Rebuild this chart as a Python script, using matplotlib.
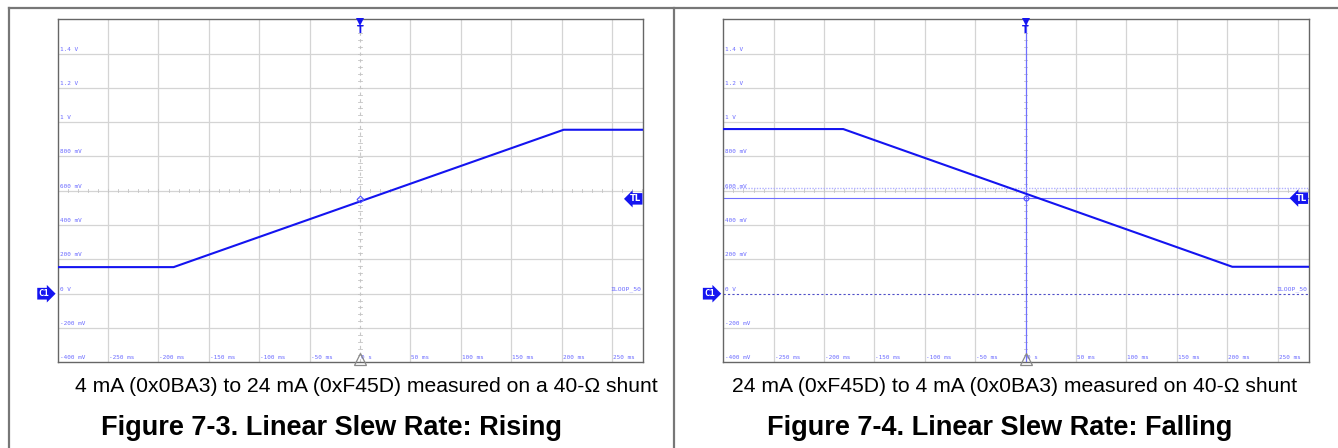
import numpy as np
import matplotlib.pyplot as plt

# scope traces (time in ms, voltage in V)
rise_t = [-300, -185, 202, 281]
rise_v = [0.155, 0.155, 0.956, 0.956]
fall_t = [-300, -181, 205, 281]
fall_v = [0.960, 0.960, 0.157, 0.157]

rise_trig = 0.553
fall_trig = 0.557
fall_dotted = 0.619

volt_ticks = [-0.4, -0.2, 0.0, 0.2, 0.4, 0.6, 0.8, 1.0, 1.2, 1.4]
volt_labels = ["-400 mV", "-200 mV", "0 V", "200 mV", "400 mV", "600 mV",
               "800 mV", "1 V", "1.2 V", "1.4 V"]
time_ticks = [-250, -200, -150, -100, -50, 0, 50, 100, 150, 200, 250]
time_labels = ["-250 ms", "-200 ms", "-150 ms", "-100 ms", "-50 ms", "0 s",
               "50 ms", "100 ms", "150 ms", "200 ms", "250 ms"]

captions = ["4 mA (0x0BA3) to 24 mA (0xF45D) measured on a 40-\u03a9 shunt",
            "24 mA (0xF45D) to 4 mA (0x0BA3) measured on 40-\u03a9 shunt"]
titles = ["Figure 7-3. Linear Slew Rate: Rising",
          "Figure 7-4. Linear Slew Rate: Falling"]

TRACE = "#1414f0"
LABEL = "#6b6bff"
GRID = "#d4d4d4"
FRAME = "#666666"
XLIM = (-300, 281)
YLIM = (-0.4, 1.6)

fig = plt.figure(figsize=(13.38, 4.48), dpi=100)
W, H = 1338, 448


def scope(ax, t, v, trig, falling):
    ax.set_xlim(*XLIM)
    ax.set_ylim(*YLIM)
    ax.set_xticks([])
    ax.set_yticks([])
    for s in ax.spines.values():
        s.set_color(FRAME)
        s.set_linewidth(1.0)
    for x in np.arange(-250, 281, 50):
        if x == 0:
            if not falling:
                ax.axvline(x, color="#c8c8c8", lw=0.8, ls=(0, (3, 3)), zorder=1)
            continue
        ax.axvline(x, color=GRID, lw=0.9, zorder=1)
    for y in np.arange(-0.2, 1.5, 0.2):
        if falling and abs(y) < 1e-9:
            continue
        ax.axhline(y, color=GRID, lw=0.9, zorder=1)
    # minor ticks on the centre crosshair
    for x in np.arange(-300, 281, 10):
        ax.plot([x, x], [0.6 - 0.008, 0.6 + 0.008], color="#c4c4c4", lw=0.6, zorder=1)
    for y in np.arange(-0.4, 1.6, 0.04):
        ax.plot([-1.8, 1.8], [y, y], color="#c4c4c4", lw=0.6, zorder=1)

    if falling:
        ax.axvline(0, color="#7070ff", lw=0.9, zorder=2)
        ax.axhline(trig, color="#7070ff", lw=0.8, zorder=2)
        ax.axhline(fall_dotted, color="#b0b0ff", lw=1.0, ls=(0, (1, 1)), zorder=2)
        ax.axhline(0.0, color="#5050c8", lw=0.8, ls=(0, (2, 2)), zorder=2)

    for y, lab in zip(volt_ticks, volt_labels):
        ax.text(-298, y + 0.012, lab, color=LABEL, fontsize=4.3,
                family="DejaVu Sans Mono", ha="left", va="bottom")
    for x, lab in zip(time_ticks, time_labels):
        ax.text(x + 1, -0.4 + 0.012, lab, color=LABEL, fontsize=4.3,
                family="DejaVu Sans Mono", ha="left", va="bottom")
    ax.text(279, 0.012, "ILOOP_50", color=LABEL, fontsize=4.6,
            family="DejaVu Sans Mono", ha="right", va="bottom")

    ax.plot(t, v, color=TRACE, lw=1.5, zorder=4)
    ax.plot(0, trig, marker='o' if falling else 'D', ms=3.5, mfc='none',
            mec="#5050ff", mew=0.8, zorder=5)

    # channel / trigger tags
    ax.annotate("C1", xy=(0, 0.0), xycoords=('axes fraction', 'data'),
                xytext=(-6, 0), textcoords='offset points', ha='right', va='center',
                color='white', fontsize=6.5, fontweight='bold', family="DejaVu Sans Mono",
                bbox=dict(boxstyle='rarrow,pad=0.15', fc=TRACE, ec='none'),
                annotation_clip=False)
    ax.annotate("TL", xy=(1, trig), xycoords=('axes fraction', 'data'),
                xytext=(-1.5, 0), textcoords='offset points', ha='right', va='center',
                color='white', fontsize=6, fontweight='bold',
                bbox=dict(boxstyle='larrow,pad=0.15', fc=TRACE, ec='none'),
                annotation_clip=False, zorder=6)
    ax.plot(0, 1.582, marker='v', ms=6, color=TRACE, clip_on=False, zorder=6,
            markeredgewidth=0)
    ax.text(0, 1.567, "T", ha='center', va='top', color=TRACE, fontsize=7,
            fontweight='bold', zorder=6)
    ax.plot(0, -0.4 + 0.022, marker='^', ms=9, mfc='none', mec="#888888",
            mew=0.9, clip_on=False, zorder=6)


ax1 = fig.add_axes([57.7 / W, 1 - 362.3 / H, 585.6 / W, 343 / H])
scope(ax1, rise_t, rise_v, rise_trig, False)
ax2 = fig.add_axes([723.3 / W, 1 - 362.3 / H, 585.6 / W, 343 / H])
scope(ax2, fall_t, fall_v, fall_trig, True)

# table frame around the two figures
border = dict(color="#777777", lw=1.6, transform=fig.transFigure, clip_on=False)
fig.add_artist(plt.Line2D([8.5 / W, 1], [1 - 8 / H] * 2, **border))
fig.add_artist(plt.Line2D([8.5 / W] * 2, [0, 1 - 8 / H], **border))
fig.add_artist(plt.Line2D([673.7 / W] * 2, [0, 1 - 8 / H], **border))

fig.text(366.5 / W, 1 - 386 / H, captions[0], ha='center', va='center',
         fontsize=15.2, family="Liberation Sans")
fig.text(331.5 / W, 1 - 428 / H, titles[0], ha='center', va='center',
         fontsize=19.5, fontweight='bold', family="Liberation Sans")
fig.text(1014.5 / W, 1 - 386 / H, captions[1], ha='center', va='center',
         fontsize=15.2, family="Liberation Sans")
fig.text(999.5 / W, 1 - 428 / H, titles[1], ha='center', va='center',
         fontsize=19.5, fontweight='bold', family="Liberation Sans")

fig.savefig("out.png", dpi=100)
